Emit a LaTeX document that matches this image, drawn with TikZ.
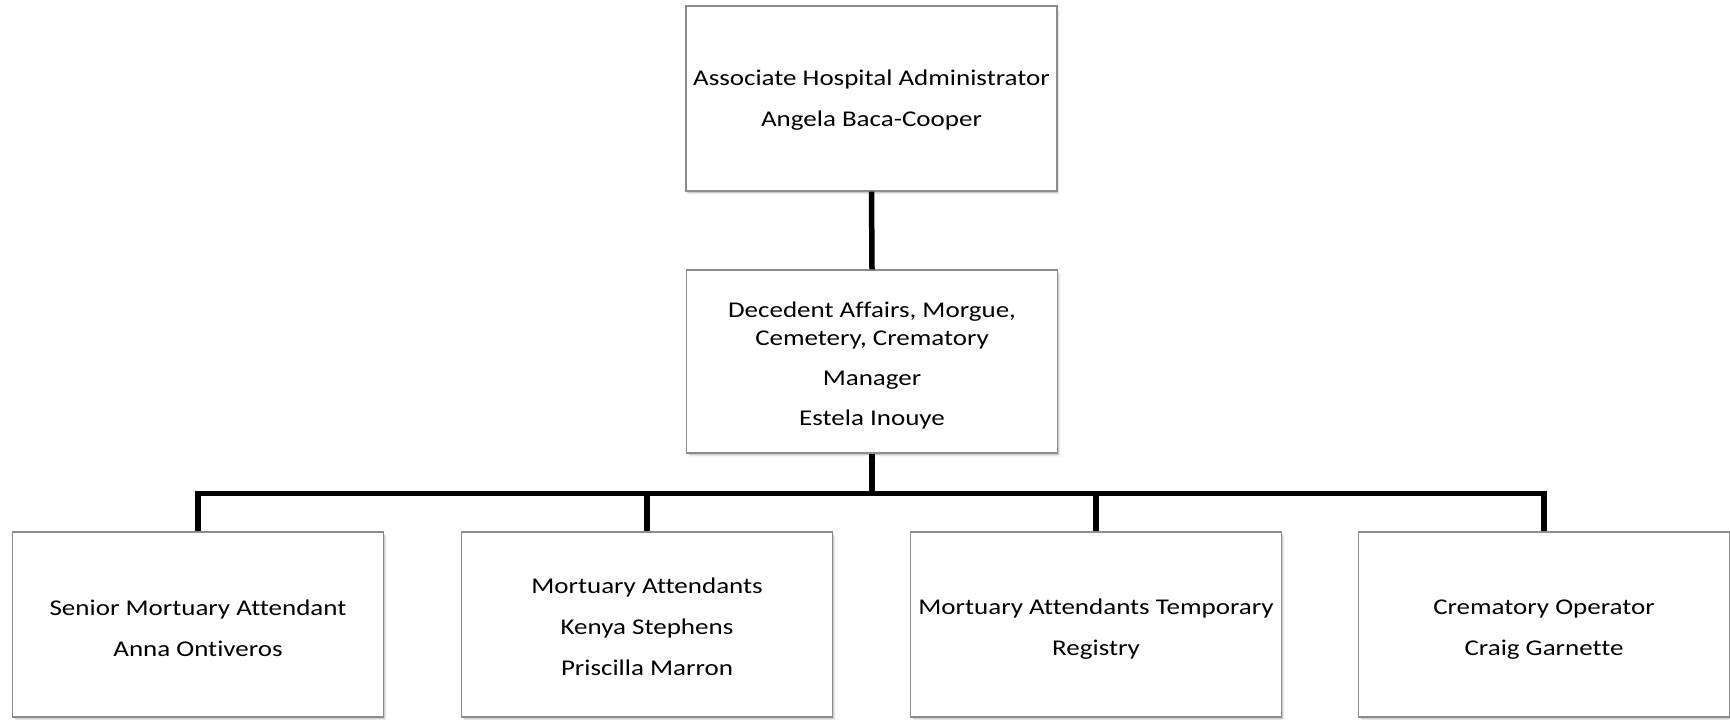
\documentclass[tikz,border=0pt]{standalone}
\usepackage{fontspec}
\setmainfont{Carlito}[FakeStretch=1.2, Ligatures=NoCommon]
\usetikzlibrary{shadows}
\definecolor{boxedge}{RGB}{140,140,140}
% extra head room above the first line of a box
\newcommand\toppad[1][24pt]{\rule{0pt}{#1}}
\begin{document}
\begin{tikzpicture}[x=1pt,y=-1pt,
  unit/.style={draw=boxedge, line width=1.1pt, fill=white,
    minimum width=371pt, minimum height=185pt, inner sep=4pt,
    align=center, text=black, font=\fontsize{22.5}{27.5}\selectfont,
    drop shadow={shadow xshift=3pt, shadow yshift=-4pt, opacity=0.06},
    drop shadow={shadow xshift=2pt, shadow yshift=-3pt, opacity=0.12},
    drop shadow={shadow xshift=1pt, shadow yshift=-1.5pt, opacity=0.25}},
  link/.style={line width=5.5pt, black}]
\useasboundingbox (0,0) rectangle (1730,720);

% top of the hierarchy
\node[unit] (admin) at (871.5,98.5)
  {\toppad[19pt]Associate Hospital Administrator\\[13.5pt]Angela Baca-Cooper};
\node[unit, minimum height=183pt] (mgr) at (872,361.5)
  {\toppad Decedent Affairs, Morgue,\\Cemetery, Crematory\\[12.5pt]Manager\\[12.5pt]Estela Inouye};

% staff row
\node[unit] (senior) at (198,624.5)
  {\toppad Senior Mortuary Attendant\\[13.5pt]Anna Ontiveros};
\node[unit] (attend) at (647,624.5)
  {\toppad[20pt]Mortuary Attendants\\[13.5pt]Kenya Stephens\\[13.5pt]Priscilla Marron};
\node[unit] (temp) at (1096,624.5)
  {\toppad Mortuary Attendants Temporary\\[13.5pt]Registry};
\node[unit] (crem) at (1544,624.5)
  {\toppad Crematory Operator\\[13.5pt]Craig Garnette};

% reporting lines
\coordinate (bus) at (872,493.5);
\draw[link] (admin.south) -- (mgr.north);
\draw[link] (mgr.south) -- (bus);
\foreach \c in {senior,attend,temp,crem}
  \draw[link] (bus) -| (\c.north);
\end{tikzpicture}
\end{document}
